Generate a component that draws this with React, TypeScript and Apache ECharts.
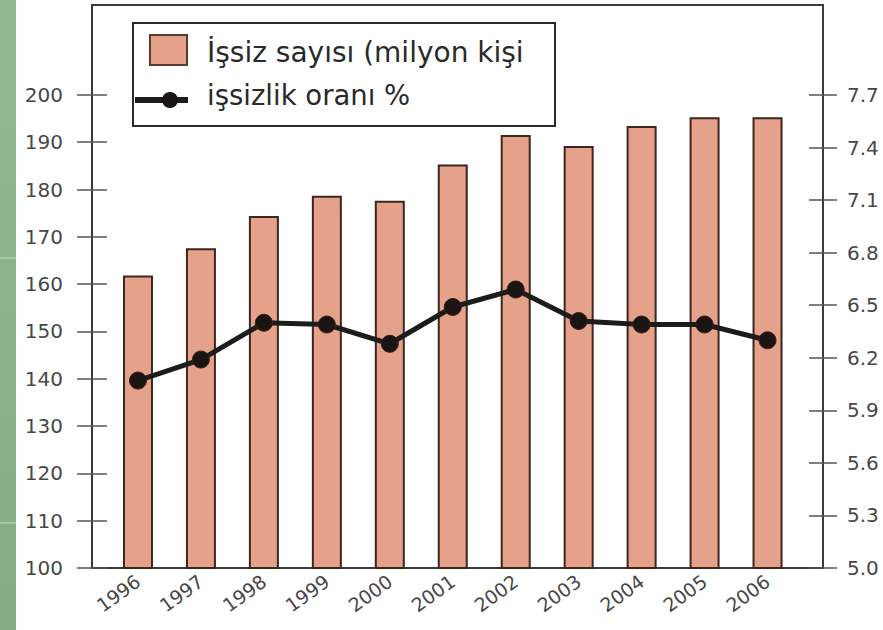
import React, { useEffect, useRef } from "react";
import * as echarts from "echarts";

const years = ["1996", "1997", "1998", "1999", "2000", "2001", "2002", "2003", "2004", "2005", "2006"];
const unemployedCount = [161.8, 167.6, 174.4, 178.7, 177.6, 185.3, 191.5, 189.2, 193.4, 195.3, 195.3];
const unemploymentRate = [6.07, 6.19, 6.4, 6.39, 6.28, 6.49, 6.59, 6.41, 6.39, 6.39, 6.3];
const leftTicks = [100, 110, 120, 130, 140, 150, 160, 170, 180, 190, 200];
const rightTicks = [5.0, 5.3, 5.6, 5.9, 6.2, 6.5, 6.8, 7.1, 7.4, 7.7];
const seriesNames = ["İşsiz sayısı (milyon kişi", "işsizlik oranı %"];

const FONT = "DejaVu Sans";
const LABEL_COLOR = "#474747";
const FRAME = "#3a3a3a";
const BAR_FILL = "#e6a18a";
const BAR_EDGE = "#3b2620";
const LINE_COLOR = "#1c1c1c";

export default function App() {
  const ref = useRef<HTMLDivElement>(null);
  useEffect(() => {
    if (!ref.current) return;
    const chart = echarts.init(ref.current, null, { renderer: "svg" });
    const leftMin = 100, leftMax = 219;
    const rightMin = 5, rightMax = 8.214;
    chart.setOption({
      animation: false,
      backgroundColor: "#ffffff",
      grid: [
        { left: 92, right: 60, top: 5, bottom: 62, show: true, borderColor: FRAME, borderWidth: 2, backgroundColor: "transparent", containLabel: false },
        { left: 106.5, right: 84, top: 5, bottom: 62, containLabel: false },
      ],
      xAxis: [
        { gridIndex: 0, type: "value", min: 0, max: 1, show: false },
        {
          gridIndex: 1,
          type: "category",
          data: years,
          axisLine: { show: false },
          axisTick: { show: false },
          splitLine: { show: false },
          axisLabel: { rotate: 36, margin: 11, color: LABEL_COLOR, fontFamily: FONT, fontSize: 19 },
        },
      ],
      yAxis: [
        {
          gridIndex: 0, type: "value", position: "left", min: leftMin, max: leftMax,
          axisLine: { show: true, lineStyle: { color: FRAME, width: 2 } },
          axisTick: { show: true, inside: false, length: 15, customValues: leftTicks, lineStyle: { color: "#555", width: 1.5 } },
          axisLabel: { customValues: leftTicks, margin: 29, color: LABEL_COLOR, fontFamily: FONT, fontSize: 20 },
          splitLine: { show: false },
        },
        {
          gridIndex: 0, type: "value", position: "right", min: rightMin, max: rightMax,
          axisLine: { show: true, lineStyle: { color: FRAME, width: 2 } },
          axisTick: { show: true, inside: false, length: 14, customValues: rightTicks, lineStyle: { color: "#555", width: 1.5 } },
          axisLabel: { customValues: rightTicks, margin: 24, color: LABEL_COLOR, fontFamily: FONT, fontSize: 20, formatter: (v: number) => v.toFixed(1) },
          splitLine: { show: false },
        },
        {
          gridIndex: 0, type: "value", position: "left", min: leftMin, max: leftMax,
          axisLine: { show: false },
          axisTick: { show: true, inside: true, length: 15, customValues: leftTicks, lineStyle: { color: "#555", width: 1.5 } },
          axisLabel: { show: false },
          splitLine: { show: false },
        },
        {
          gridIndex: 0, type: "value", position: "right", min: rightMin, max: rightMax,
          axisLine: { show: false },
          axisTick: { show: true, inside: true, length: 14, customValues: rightTicks, lineStyle: { color: "#555", width: 1.5 } },
          axisLabel: { show: false },
          splitLine: { show: false },
        },
        { gridIndex: 1, type: "value", min: leftMin, max: leftMax, show: false },
        { gridIndex: 1, type: "value", min: rightMin, max: rightMax, show: false },
      ],
      series: [
        {
          name: seriesNames[0],
          type: "bar",
          xAxisIndex: 1,
          yAxisIndex: 4,
          data: unemployedCount,
          barWidth: 30,
          itemStyle: { color: BAR_FILL, borderColor: BAR_EDGE, borderWidth: 2 },
          z: 2,
        },
        {
          name: seriesNames[1],
          type: "line",
          xAxisIndex: 1,
          yAxisIndex: 5,
          data: unemploymentRate,
          symbol: "circle",
          symbolSize: 17,
          lineStyle: { color: LINE_COLOR, width: 5 },
          itemStyle: { color: "#1a1412", borderColor: "#3a1f18", borderWidth: 1 },
          z: 5,
        },
      ],
      graphic: [
        {
          type: "rect", left: 0, top: 0, z: -1,
          shape: { x: 0, y: 0, width: 16, height: 630 },
          style: {
            fill: new echarts.graphic.LinearGradient(0, 0, 0, 1, [
              { offset: 0, color: "#93bb92" },
              { offset: 1, color: "#85ab85" },
            ]),
          },
        },
        { type: "rect", z: 0, shape: { x: 0, y: 257, width: 16, height: 2 }, style: { fill: "#a8c9a6" } },
        { type: "rect", z: 0, shape: { x: 0, y: 522, width: 16, height: 2 }, style: { fill: "#a8c9a6" } },
        {
          type: "group",
          z: 20,
          children: [
            { type: "rect", shape: { x: 133, y: 23, width: 422, height: 103 }, style: { fill: "#ffffff", stroke: "#2a2a2a", lineWidth: 2 } },
            { type: "rect", shape: { x: 150, y: 35, width: 37, height: 30 }, style: { fill: BAR_FILL, stroke: "#5a3a30", lineWidth: 2 } },
            { type: "text", x: 207, y: 52.5, style: { text: seriesNames[0], fill: "#2a2a2a", font: `28px "${FONT}"`, verticalAlign: "middle", align: "left" } },
            { type: "line", shape: { x1: 135, y1: 100, x2: 188, y2: 100 }, style: { stroke: LINE_COLOR, lineWidth: 6 } },
            { type: "circle", shape: { cx: 170, cy: 100, r: 8 }, style: { fill: "#1a1412" } },
            { type: "text", x: 207, y: 94.5, style: { text: seriesNames[1], fill: "#2a2a2a", font: `27.5px "${FONT}"`, verticalAlign: "middle", align: "left" } },
          ],
        },
      ],
    });
    return () => chart.dispose();
  }, []);
  return (
    <div
      ref={ref}
      style={{ position: "fixed", left: 0, top: 0, width: 883, height: 630, background: "#fff" }}
    />
  );
}
